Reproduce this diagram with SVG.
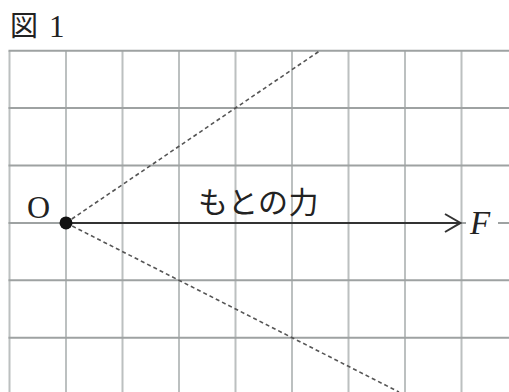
<svg xmlns="http://www.w3.org/2000/svg" width="509" height="392" viewBox="0 0 509 392">
<style>
.v{stroke:#bcc0c0;stroke-width:2}
.h{stroke:#9ea2a2;stroke-width:2}
.dash{stroke:#555;stroke-width:1.6;stroke-dasharray:4 3;fill:none}
.serif{font-family:"Liberation Serif","Noto Serif",serif;fill:#222}
.jp{font-family:"Noto Sans CJK JP",sans-serif;fill:#222}
</style>
<rect width="509" height="392" fill="#fff"/>
<text class="jp" x="10" y="36" font-size="28">図</text>
<text class="serif" x="49" y="37" font-size="31">1</text>
<g id="grid">
<line class="v" x1="9.5" y1="50.7" x2="9.5" y2="392"/>
<line class="v" x1="66" y1="50.7" x2="66" y2="392"/>
<line class="v" x1="122.5" y1="50.7" x2="122.5" y2="392"/>
<line class="v" x1="179" y1="50.7" x2="179" y2="392"/>
<line class="v" x1="235.5" y1="50.7" x2="235.5" y2="392"/>
<line class="v" x1="292" y1="50.7" x2="292" y2="392"/>
<line class="v" x1="348.5" y1="50.7" x2="348.5" y2="392"/>
<line class="v" x1="405" y1="50.7" x2="405" y2="392"/>
<line class="v" x1="461.5" y1="50.7" x2="461.5" y2="392"/>
<line class="h" x1="8.5" y1="50.7" x2="509" y2="50.7"/>
<line class="h" x1="8.5" y1="108.1" x2="509" y2="108.1"/>
<line class="h" x1="8.5" y1="165.5" x2="509" y2="165.5"/>
<line class="h" x1="8.5" y1="222.9" x2="509" y2="222.9"/>
<line class="h" x1="8.5" y1="280.3" x2="509" y2="280.3"/>
<line class="h" x1="8.5" y1="337.7" x2="509" y2="337.7"/>
</g>
<g id="connectors">
<line class="dash" x1="66" y1="222.9" x2="320" y2="50.7"/>
<line class="dash" x1="66" y1="222.9" x2="399" y2="392"/>
<line x1="66" y1="222.9" x2="460" y2="222.9" stroke="#333" stroke-width="2"/>
<polyline points="445,214 460.5,222.9 445,232" fill="none" stroke="#333" stroke-width="2"/>
</g>
<g id="O">
<circle cx="66" cy="222.9" r="6.5" fill="#111"/>
<text class="serif" x="27" y="218" font-size="32">O</text>
</g>
<g id="F">
<rect x="466" y="208" width="32" height="28" fill="#fff"/>
<text class="serif" x="470" y="234" font-size="33" font-style="italic">F</text>
</g>
<g id="label">
<text class="jp" x="198" y="213" font-size="30" letter-spacing="0.5">もとの力</text>
</g>
</svg>
